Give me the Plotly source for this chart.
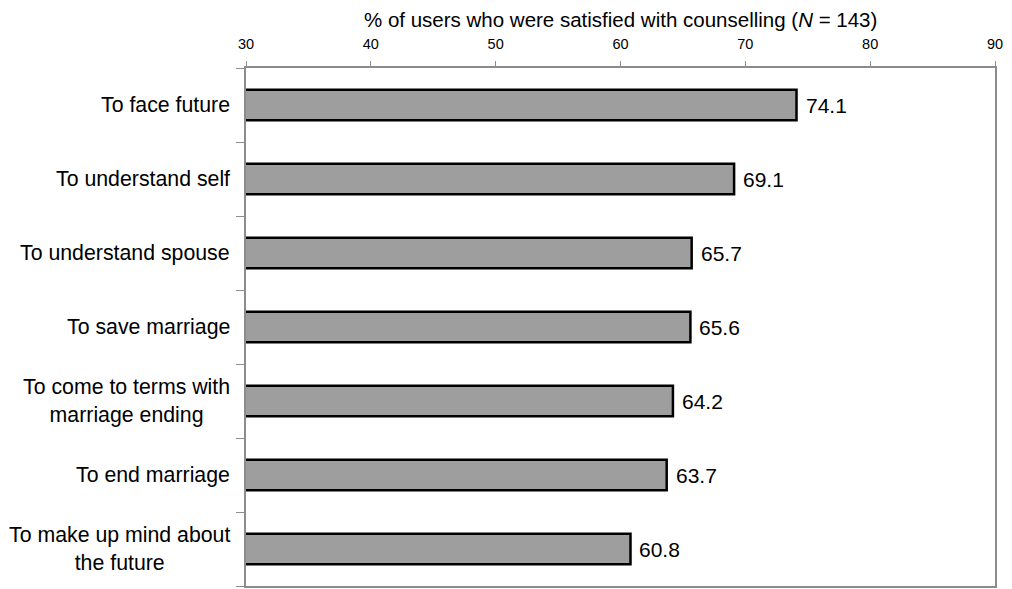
import plotly.graph_objects as go

# Reasons for counselling and share of satisfied users (%)
reasons = [
    "To face future",
    "To understand self",
    "To understand spouse",
    "To save marriage",
    "To come to terms with<br>marriage ending",
    "To end marriage",
    "To make up mind about<br>the future",
]
satisfied_pct = [74.1, 69.1, 65.7, 65.6, 64.2, 63.7, 60.8]
x_ticks = [30, 40, 50, 60, 70, 80, 90]

FONT = "Liberation Sans, Arial, sans-serif"
AXIS_GREY = "#8c8c8c"

fig = go.Figure(
    go.Bar(
        y=list(range(len(reasons))),
        x=satisfied_pct,
        base=0,
        orientation="h",
        width=0.41,
        marker=dict(color="#9e9e9e", line=dict(color="#000000", width=2.5)),
        hoverinfo="skip",
    )
)

annotations = []
# Category labels, right-anchored, each line centred within the block
for i, name in enumerate(reasons):
    annotations.append(dict(
        x=0, xref="paper", y=i, yref="y",
        text=name, showarrow=False,
        xanchor="right", yanchor="middle", align="center",
        xshift=-14,
        font=dict(family=FONT, size=21.3, color="#000000"),
    ))
# Value labels to the right of each bar
for i, v in enumerate(satisfied_pct):
    annotations.append(dict(
        x=v, xref="x", y=i, yref="y",
        text=f"{v:.1f}", showarrow=False,
        xanchor="left", yanchor="middle",
        xshift=7,
        font=dict(family=FONT, size=21, color="#000000"),
    ))
# Axis title above the top tick labels
annotations.append(dict(
    x=0.5, xref="paper", y=1.094, yref="paper", yanchor="middle",
    text="% of users who were satisfied with counselling (<i>N</i> = 143)",
    showarrow=False,
    font=dict(family=FONT, size=20.5, color="#000000"),
))

fig.update_layout(
    width=1012, height=589,
    margin=dict(l=246, r=17, t=68, b=1),
    paper_bgcolor="#ffffff", plot_bgcolor="#ffffff",
    showlegend=False,
    annotations=annotations,
    xaxis=dict(
        side="top",
        range=[30, 90],
        tickvals=x_ticks,
        ticktext=[str(t) for t in x_ticks],
        ticks="outside", ticklen=5, tickwidth=1, tickcolor=AXIS_GREY,
        ticklabelstandoff=6,
        tickfont=dict(family=FONT, size=14.5, color="#000000"),
        showgrid=False, zeroline=False,
        showline=True, linecolor=AXIS_GREY, linewidth=2, mirror=True,
        fixedrange=True,
    ),
    yaxis=dict(
        type="category",
        tickvals=list(range(len(reasons))),
        autorange="reversed",
        showticklabels=False,
        ticks="outside", tickson="boundaries", ticklen=8, tickwidth=1, tickcolor=AXIS_GREY,
        showgrid=False, zeroline=False,
        showline=True, linecolor=AXIS_GREY, linewidth=2, mirror=True,
        fixedrange=True,
    ),
)

fig.write_html("out.html")
